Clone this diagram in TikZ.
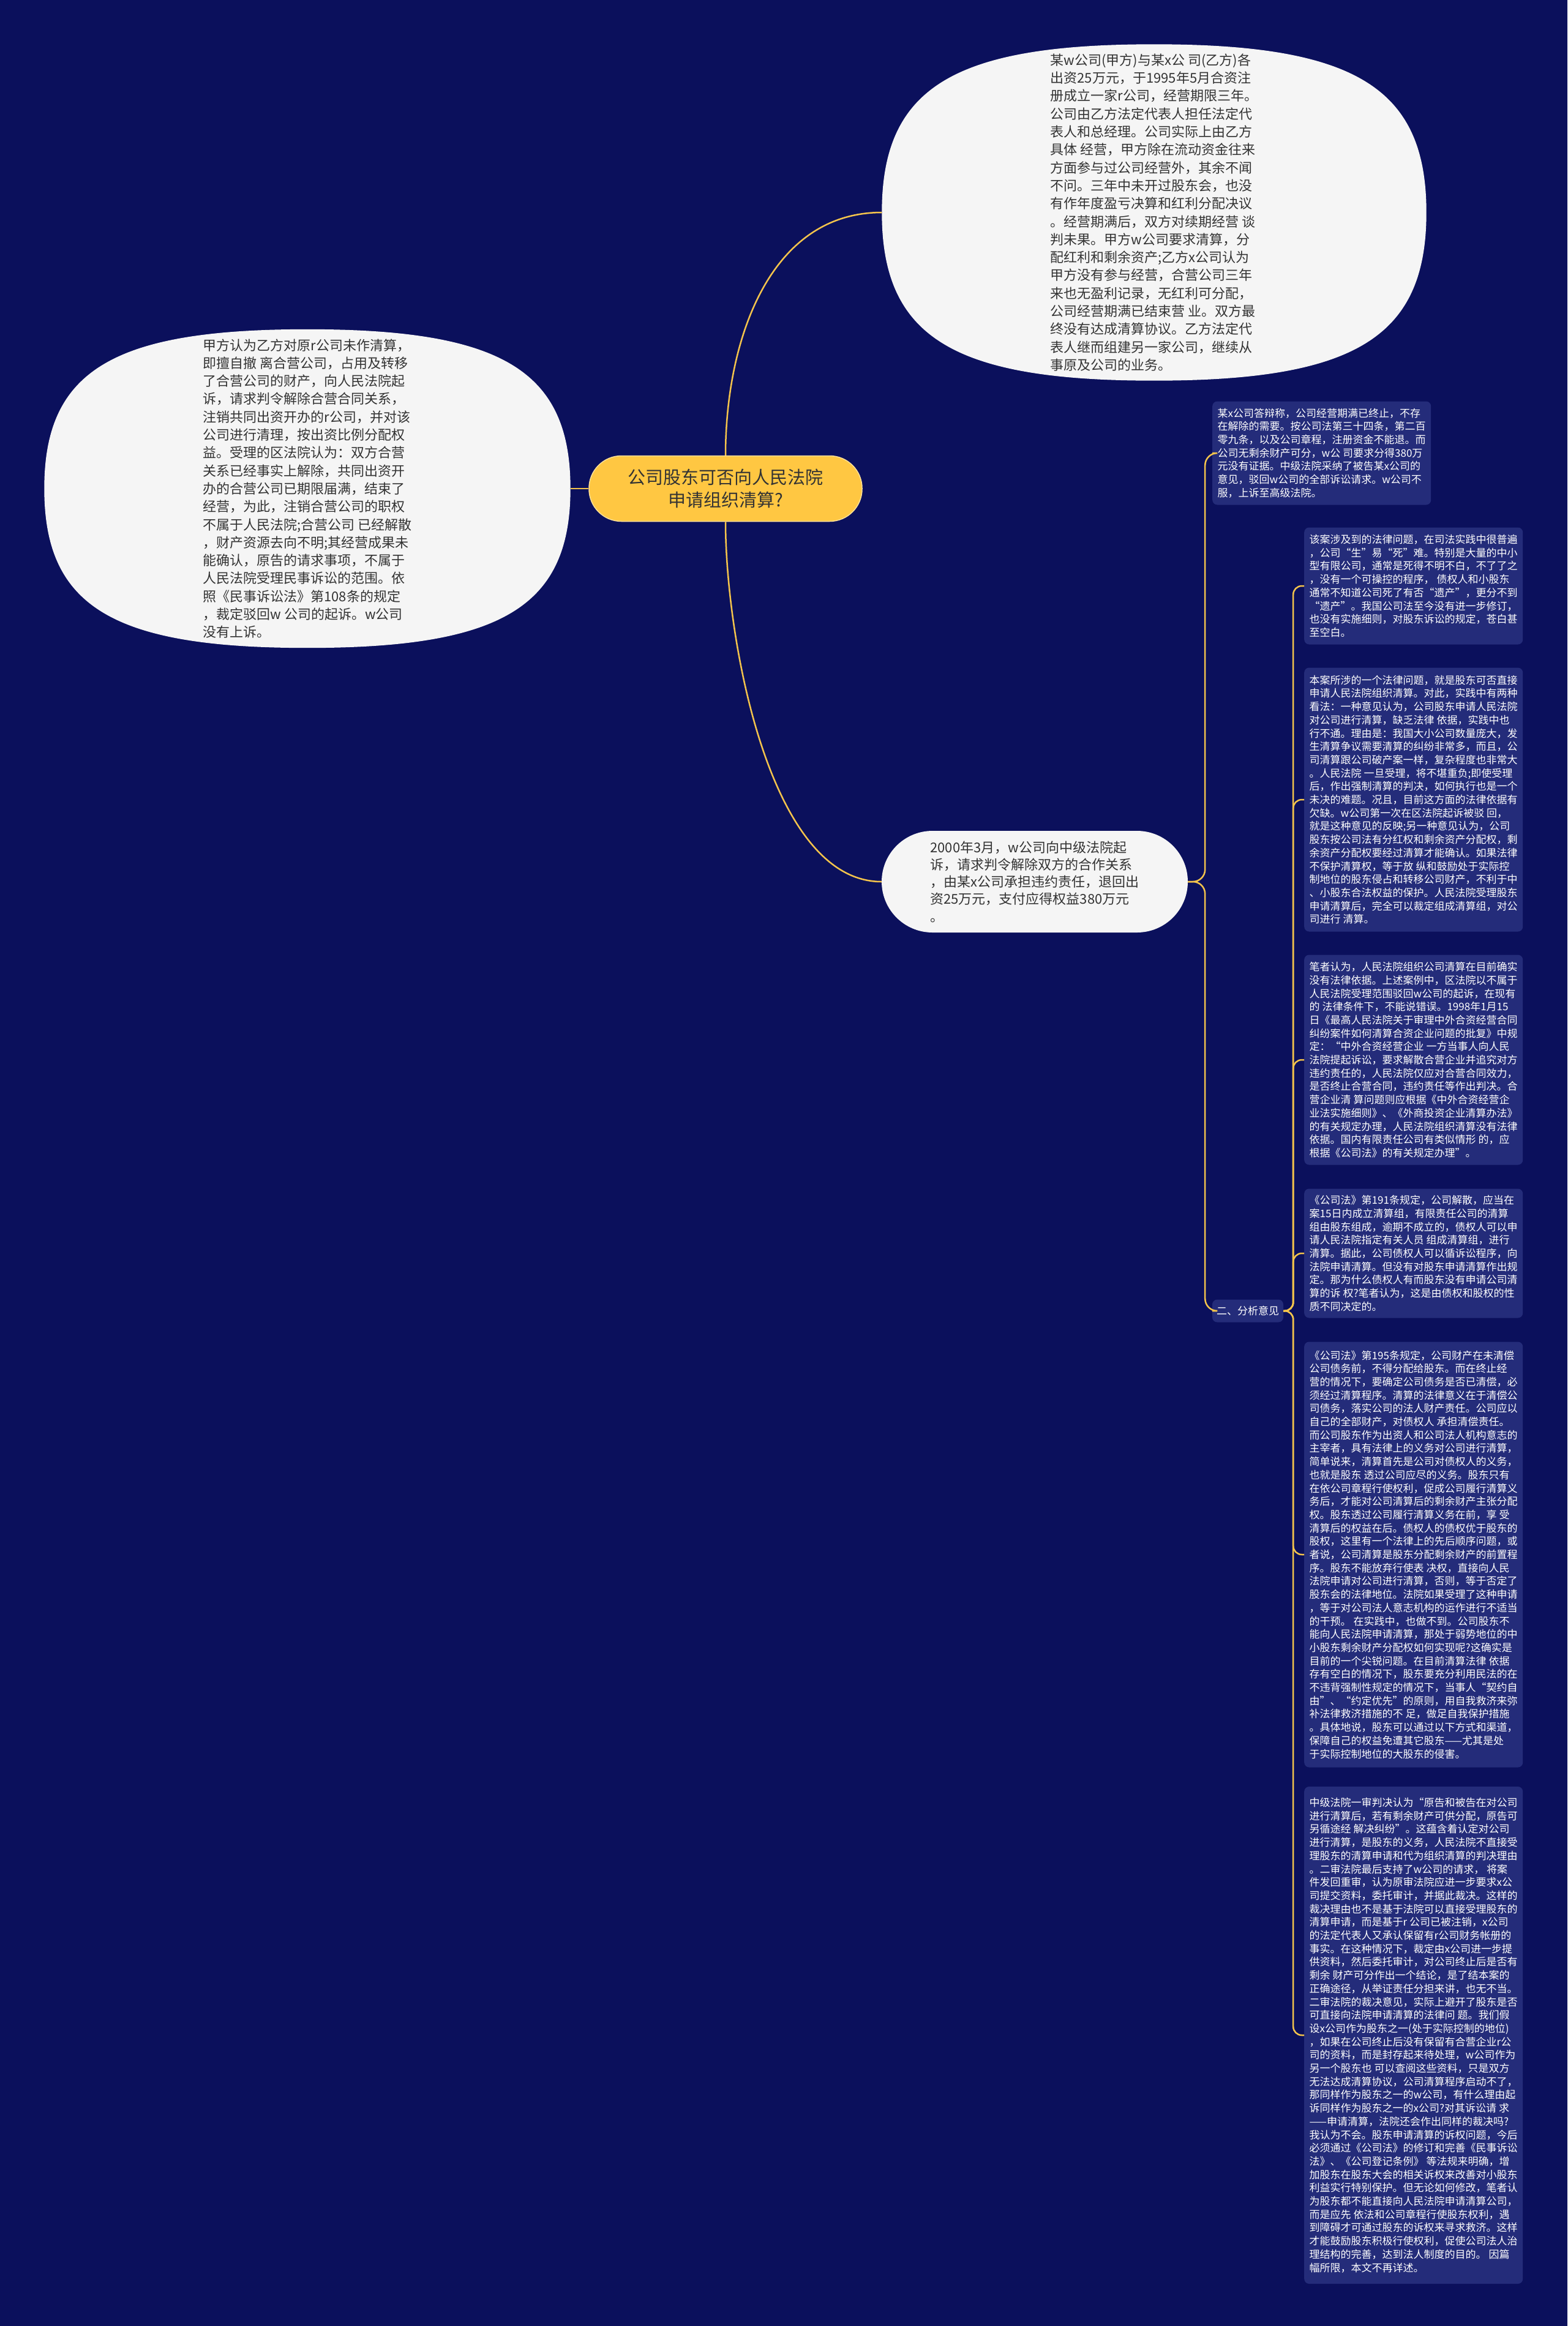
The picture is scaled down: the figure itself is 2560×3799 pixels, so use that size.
\documentclass[tikz,border=0pt]{standalone}
\usepackage{fontspec}
\setmainfont{Noto Sans CJK SC}
\usetikzlibrary{calc}
\definecolor{bgnavy}{RGB}{11,16,92}
\definecolor{boxblue}{RGB}{36,44,122}
\definecolor{linkgold}{RGB}{244,196,76}
\definecolor{pillgold}{RGB}{255,199,66}
\definecolor{paper}{RGB}{245,245,245}
\definecolor{ink}{RGB}{51,51,51}
% soft oval drawn over the frame of a named node
\newcommand\softoval[1]{%
  \fill[paper] (#1.east)
    .. controls ($(#1.east)!.74!(#1.north east)$) and ($(#1.north)!.74!(#1.north east)$) .. (#1.north)
    .. controls ($(#1.north)!.74!(#1.north west)$) and ($(#1.west)!.74!(#1.north west)$) .. (#1.west)
    .. controls ($(#1.west)!.74!(#1.south west)$) and ($(#1.south)!.74!(#1.south west)$) .. (#1.south)
    .. controls ($(#1.south)!.74!(#1.south east)$) and ($(#1.east)!.74!(#1.south east)$) .. (#1.east) -- cycle;}
\begin{document}
\begin{tikzpicture}[x=1pt, y=-1pt,
    link/.style={draw=linkgold, line width=2.5pt, rounded corners=14pt},
    topic/.style={fill=pillgold, draw=pillgold!55!white, line width=1.5pt, rounded corners=53pt,
      minimum width=446pt, minimum height=107pt, text=ink, align=center,
      font=\fontsize{29}{36.7}\selectfont},
    frame/.style={inner sep=0pt},
    ovaltext/.style={text=ink, align=left, font=\fontsize{22}{29.3}\selectfont},
    pill/.style={fill=paper, rounded corners=83pt, minimum width=500pt, minimum height=166pt,
      text=ink, align=left, font=\fontsize{22}{28.3}\selectfont},
    note/.style={fill=boxblue, rounded corners=8pt, text=white, align=left, anchor=west,
      minimum width=357pt, inner xsep=8pt, font=\fontsize{17}{21.7}\selectfont},
    tag/.style={fill=boxblue, rounded corners=8pt, text=white, minimum width=116pt,
      minimum height=37pt, inner sep=2pt, font=\fontsize{17}{21}\selectfont}]
    \useasboundingbox (0,0) rectangle (2560,3799);
    \fill[bgnavy] (0,0) rectangle (2560,3799);

    \node[topic] (topic) at (1185,798) {公司股东可否向人民法院\\申请组织清算?};

    % case facts, upper right
    \node[frame, minimum width=889pt, minimum height=549pt] (facts) at (1885,347) {};
    \softoval{facts}
    \node[ovaltext] (factstext) at (facts) {某w公司(甲方)与某x公 司(乙方)各\\
      出资25万元，于1995年5月合资注\\
      册成立一家r公司，经营期限三年。\\
      公司由乙方法定代表人担任法定代\\
      表人和总经理。公司实际上由乙方\\
      具体 经营，甲方除在流动资金往来\\
      方面参与过公司经营外，其余不闻\\
      不问。三年中未开过股东会，也没\\
      有作年度盈亏决算和红利分配决议\\
      。经营期满后，双方对续期经营 谈\\
      判未果。甲方w公司要求清算，分\\
      配红利和剩余资产;乙方x公司认为\\
      甲方没有参与经营，合营公司三年\\
      来也无盈利记录，无红利可分配，\\
      公司经营期满已结束营 业。双方最\\
      终没有达成清算协议。乙方法定代\\
      表人继而组建另一家公司，继续从\\
      事原及公司的业务。};

    % first suit, left
    \node[frame, minimum width=859pt, minimum height=520pt] (claim) at (502,798) {};
    \softoval{claim}
    \node[ovaltext] (claimtext) at (claim) {甲方认为乙方对原r公司未作清算，\\
      即擅自撤 离合营公司，占用及转移\\
      了合营公司的财产，向人民法院起\\
      诉，请求判令解除合营合同关系，\\
      注销共同出资开办的r公司，并对该\\
      公司进行清理，按出资比例分配权\\
      益。受理的区法院认为：双方合营\\
      关系已经事实上解除，共同出资开\\
      办的合营公司已期限届满，结束了\\
      经营，为此，注销合营公司的职权\\
      不属于人民法院;合营公司 已经解散\\
      ，财产资源去向不明;其经营成果未\\
      能确认，原告的请求事项，不属于\\
      人民法院受理民事诉讼的范围。依\\
      照《民事诉讼法》第108条的规定\\
      ，裁定驳回w 公司的起诉。w公司\\
      没有上诉。};

    % second suit
    \node[pill] (plea) at (1690,1440) {2000年3月，w公司向中级法院起\\
      诉，请求判令解除双方的合作关系\\
      ，由某x公司承担违约责任，退回出\\
      资25万元，支付应得权益380万元\\
      。};

    \node[note, minimum height=169pt] (answer) at (1980,740) {某x公司答辩称，公司经营期满已终止，不存\\
      在解除的需要。按公司法第三十四条，第二百\\
      零九条，以及公司章程，注册资金不能退。而\\
      公司无剩余财产可分，w公 司要求分得380万\\
      元没有证据。中级法院采纳了被告某x公司的\\
      意见，驳回w公司的全部诉讼请求。w公司不\\
      服，上诉至高级法院。};

    \node[tag] (analysis) at (2038,2141) {二、分析意见};

    \node[note, minimum height=191pt] (common) at (2130,957) {该案涉及到的法律问题，在司法实践中很普遍\\
      ，公司“生”易“死”难。特别是大量的中小\\
      型有限公司，通常是死得不明不白，不了了之\\
      ，没有一个可操控的程序， 债权人和小股东\\
      通常不知道公司死了有否“遗产”，更分不到\\
      “遗产”。我国公司法至今没有进一步修订，\\
      也没有实施细则，对股东诉讼的规定，苍白甚\\
      至空白。};

    \node[note, minimum height=431pt] (issue) at (2130,1306) {本案所涉的一个法律问题，就是股东可否直接\\
      申请人民法院组织清算。对此，实践中有两种\\
      看法：一种意见认为，公司股东申请人民法院\\
      对公司进行清算，缺乏法律 依据，实践中也\\
      行不通。理由是：我国大小公司数量庞大，发\\
      生清算争议需要清算的纠纷非常多，而且，公\\
      司清算跟公司破产案一样，复杂程度也非常大\\
      。人民法院 一旦受理，将不堪重负;即使受理\\
      后，作出强制清算的判决，如何执行也是一个\\
      未决的难题。况且，目前这方面的法律依据有\\
      欠缺。w公司第一次在区法院起诉被驳 回，\\
      就是这种意见的反映;另一种意见认为，公司\\
      股东按公司法有分红权和剩余资产分配权，剩\\
      余资产分配权要经过清算才能确认。如果法律\\
      不保护清算权，等于放 纵和鼓励处于实际控\\
      制地位的股东侵占和转移公司财产，不利于中\\
      、小股东合法权益的保护。人民法院受理股东\\
      申请清算后，完全可以裁定组成清算组，对公\\
      司进行 清算。};

    \node[note, minimum height=343pt] (author) at (2130,1731) {笔者认为，人民法院组织公司清算在目前确实\\
      没有法律依据。上述案例中，区法院以不属于\\
      人民法院受理范围驳回w公司的起诉，在现有\\
      的 法律条件下，不能说错误。1998年1月15\\
      日《最高人民法院关于审理中外合资经营合同\\
      纠纷案件如何清算合资企业问题的批复》中规\\
      定：“中外合资经营企业 一方当事人向人民\\
      法院提起诉讼，要求解散合营企业并追究对方\\
      违约责任的，人民法院仅应对合营合同效力，\\
      是否终止合营合同，违约责任等作出判决。合\\
      营企业清 算问题则应根据《中外合资经营企\\
      业法实施细则》、《外商投资企业清算办法》\\
      的有关规定办理，人民法院组织清算没有法律\\
      依据。国内有限责任公司有类似情形 的，应\\
      根据《公司法》的有关规定办理”。};

    \node[note, minimum height=211pt] (law191) at (2130,2047) {《公司法》第191条规定，公司解散，应当在\\
      案15日内成立清算组，有限责任公司的清算\\
      组由股东组成，逾期不成立的，债权人可以申\\
      请人民法院指定有关人员 组成清算组，进行\\
      清算。据此，公司债权人可以循诉讼程序，向\\
      法院申请清算。但没有对股东申请清算作出规\\
      定。那为什么债权人有而股东没有申请公司清\\
      算的诉 权?笔者认为，这是由债权和股权的性\\
      质不同决定的。};

    \node[note, minimum height=695pt] (law195) at (2130,2539) {《公司法》第195条规定，公司财产在未清偿\\
      公司债务前，不得分配给股东。而在终止经\\
      营的情况下，要确定公司债务是否已清偿，必\\
      须经过清算程序。清算的法律意义在于清偿公\\
      司债务，落实公司的法人财产责任。公司应以\\
      自己的全部财产，对债权人 承担清偿责任。\\
      而公司股东作为出资人和公司法人机构意志的\\
      主宰者，具有法律上的义务对公司进行清算，\\
      简单说来，清算首先是公司对债权人的义务，\\
      也就是股东 透过公司应尽的义务。股东只有\\
      在依公司章程行使权利，促成公司履行清算义\\
      务后，才能对公司清算后的剩余财产主张分配\\
      权。股东透过公司履行清算义务在前，享 受\\
      清算后的权益在后。债权人的债权优于股东的\\
      股权，这里有一个法律上的先后顺序问题，或\\
      者说，公司清算是股东分配剩余财产的前置程\\
      序。股东不能放弃行使表 决权，直接向人民\\
      法院申请对公司进行清算，否则，等于否定了\\
      股东会的法律地位。法院如果受理了这种申请\\
      ，等于对公司法人意志机构的运作进行不适当\\
      的干预。 在实践中，也做不到。公司股东不\\
      能向人民法院申请清算，那处于弱势地位的中\\
      小股东剩余财产分配权如何实现呢?这确实是\\
      目前的一个尖锐问题。在目前清算法律 依据\\
      存有空白的情况下，股东要充分利用民法的在\\
      不违背强制性规定的情况下，当事人“契约自\\
      由”、“约定优先”的原则，用自我救济来弥\\
      补法律救济措施的不 足，做足自我保护措施\\
      。具体地说，股东可以通过以下方式和渠道，\\
      保障自己的权益免遭其它股东——尤其是处\\
      于实际控制地位的大股东的侵害。};

    \node[note, minimum height=812pt] (verdict) at (2130,3324) {中级法院一审判决认为“原告和被告在对公司\\
      进行清算后，若有剩余财产可供分配，原告可\\
      另循途经 解决纠纷”。这蕴含着认定对公司\\
      进行清算，是股东的义务，人民法院不直接受\\
      理股东的清算申请和代为组织清算的判决理由\\
      。二审法院最后支持了w公司的请求， 将案\\
      件发回重审，认为原审法院应进一步要求x公\\
      司提交资料，委托审计，并据此裁决。这样的\\
      裁决理由也不是基于法院可以直接受理股东的\\
      清算申请，而是基于r 公司已被注销，x公司\\
      的法定代表人又承认保留有r公司财务帐册的\\
      事实。在这种情况下，裁定由x公司进一步提\\
      供资料，然后委托审计，对公司终止后是否有\\
      剩余 财产可分作出一个结论，是了结本案的\\
      正确途径，从举证责任分担来讲，也无不当。\\
      二审法院的裁决意见，实际上避开了股东是否\\
      可直接向法院申请清算的法律问 题。我们假\\
      设x公司作为股东之一(处于实际控制的地位)\\
      ，如果在公司终止后没有保留有合营企业r公\\
      司的资料，而是封存起来待处理，w公司作为\\
      另一个股东也 可以查阅这些资料，只是双方\\
      无法达成清算协议，公司清算程序启动不了，\\
      那同样作为股东之一的w公司，有什么理由起\\
      诉同样作为股东之一的x公司?对其诉讼请 求\\
      ——申请清算，法院还会作出同样的裁决吗?\\
      我认为不会。股东申请清算的诉权问题，今后\\
      必须通过《公司法》的修订和完善《民事诉讼\\
      法》、《公司登记条例》 等法规来明确，增\\
      加股东在股东大会的相关诉权来改善对小股东\\
      利益实行特别保护。但无论如何修改，笔者认\\
      为股东都不能直接向人民法院申请清算公司，\\
      而是应先 依法和公司章程行使股东权利，遇\\
      到障碍才可通过股东的诉权来寻求救济。这样\\
      才能鼓励股东积极行使权利，促使公司法人治\\
      理结构的完善，达到法人制度的目的。 因篇\\
      幅所限，本文不再详述。};

    % connectors
    \draw[link] (topic.west) -- (claim.east);
    \draw[link] (topic.north) .. controls +(0,-185) and +(-185,0) .. (facts.west);
    \draw[link] (topic.south) .. controls +(0,185) and +(-185,0) .. (plea.west);
    \draw[link, rounded corners=20pt] (plea.east) -- ++(28,0) |- (answer.west);
    \draw[link, rounded corners=20pt] (plea.east) -- ++(28,0) |- (analysis.west);
    \foreach \v in {common, issue, author, law191, law195, verdict}
      \draw[link] (analysis.east) -- ++(16,0) |- (\v.west);
\end{tikzpicture}
\end{document}
